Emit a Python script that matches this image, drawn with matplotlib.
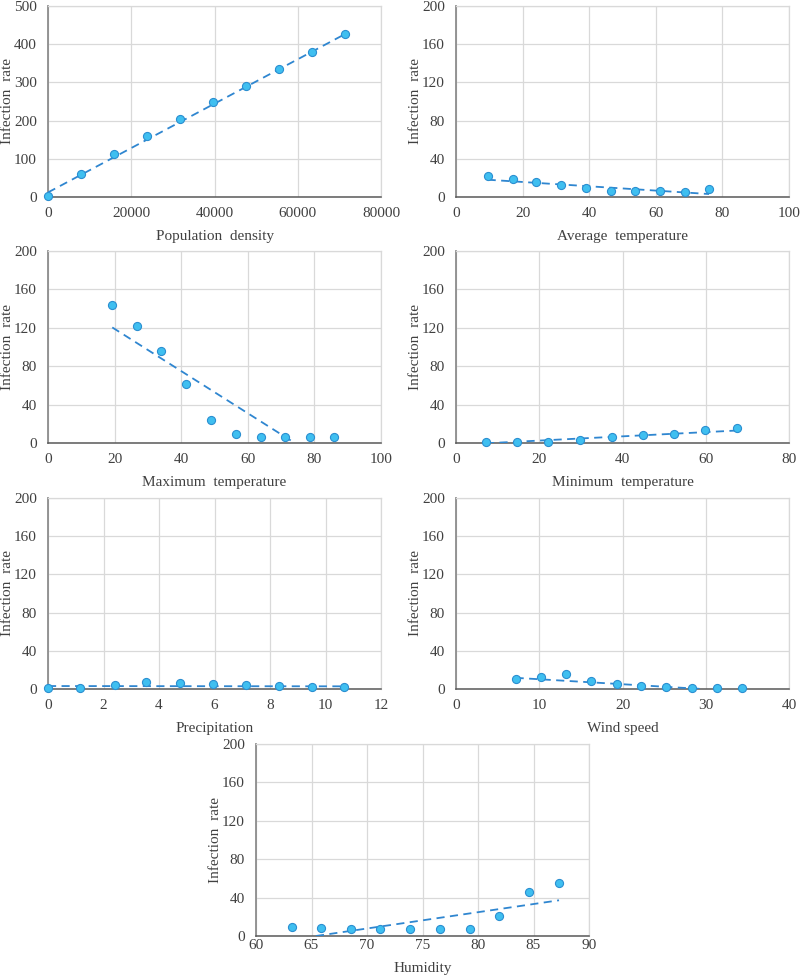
import matplotlib
matplotlib.use("Agg")
import matplotlib.pyplot as plt
import numpy as np

plt.rcParams['font.family'] = ['Liberation Serif', 'DejaVu Serif']

# ---------------- data ----------------
pop_x = [0, 7920, 15760, 23760, 31760, 39600, 47600, 55600, 63360, 71440]
pop_y = [2.6, 61, 112, 159, 203.5, 248, 290.5, 335, 380, 427]
pop_trend_x = [0, 71440]
pop_trend_y = [12, 427]

avg_x = [9.5, 17, 24, 31.5, 39, 46.4, 53.9, 61.4, 68.8, 76]
avg_y = [21.6, 18.8, 15.4, 12.6, 9.1, 6.3, 6.3, 6.3, 5.2, 8.4]
avg_trend_x = [9.5, 76]
avg_trend_y = [18.1, 3.1]

max_x = [19.1, 26.6, 34, 41.5, 48.9, 56.4, 63.9, 71.3, 78.7, 85.9]
max_y = [143.3, 122.1, 96.2, 61.6, 24.2, 9.0, 6.2, 6.2, 6.2, 6.2]
max_trend_x = [19.3, 74.1]
max_trend_y = [120.4, 0]

min_x = [7.2, 14.7, 22.2, 29.8, 37.4, 45, 52.3, 59.9, 67.5]
min_y = [0.7, 0.7, 0.7, 3.5, 6.3, 8.0, 9.7, 13.2, 16.0]
min_trend_x = [7.2, 67.5]
min_trend_y = [-0.3, 13.0]

pre_x = [0, 1.17, 2.40, 3.54, 4.74, 5.94, 7.13, 8.31, 9.50, 10.67]
pre_y = [0.7, 0.7, 4.5, 7.0, 5.9, 5.2, 4.5, 3.5, 2.4, 1.7]
pre_trend_x = [0, 10.67]
pre_trend_y = [3.1, 2.8]

wind_x = [7.16, 10.16, 13.24, 16.2, 19.28, 22.28, 25.24, 28.32, 31.32, 34.36]
wind_y = [10.7, 12.4, 15.2, 7.9, 5.2, 3.4, 1.7, 0.7, 0.7, 0.7]
wind_trend_x = [7.16, 29.6]
wind_trend_y = [11.7, 0]

hum_x = [63.2, 65.9, 68.6, 71.2, 73.9, 76.6, 79.3, 81.9, 84.6, 87.3]
hum_y = [9.7, 8.7, 7.6, 7.6, 6.9, 6.9, 7.6, 21.2, 46.2, 55.2]
hum_trend_x = [65.4, 87.3]
hum_trend_y = [0, 37.2]

xlabels = ["Population  density", "Average  temperature", "Maximum  temperature",
           "Minimum  temperature", "Precipitation", "Wind speed", "Humidity"]
ylabel = "Infection  rate"

panels = [
    (pop_x, pop_y, pop_trend_x, pop_trend_y, (0, 80000), np.arange(0, 80001, 20000), (0, 500), np.arange(0, 501, 100)),
    (avg_x, avg_y, avg_trend_x, avg_trend_y, (0, 100), np.arange(0, 101, 20), (0, 200), np.arange(0, 201, 40)),
    (max_x, max_y, max_trend_x, max_trend_y, (0, 100), np.arange(0, 101, 20), (0, 200), np.arange(0, 201, 40)),
    (min_x, min_y, min_trend_x, min_trend_y, (0, 80), np.arange(0, 81, 20), (0, 200), np.arange(0, 201, 40)),
    (pre_x, pre_y, pre_trend_x, pre_trend_y, (0, 12), np.arange(0, 13, 2), (0, 200), np.arange(0, 201, 40)),
    (wind_x, wind_y, wind_trend_x, wind_trend_y, (0, 40), np.arange(0, 41, 10), (0, 200), np.arange(0, 201, 40)),
    (hum_x, hum_y, hum_trend_x, hum_trend_y, (60, 90), np.arange(60, 91, 5), (0, 200), np.arange(0, 201, 40)),
]

# axes rectangles in pixel coordinates (left, top, right, bottom)
W, H = 800, 976
rects_px = [
    (48, 6, 381, 197), (456, 6, 789, 197),
    (48, 251, 381, 443), (456, 251, 789, 443),
    (48, 498, 381, 689), (456, 498, 789, 689),
    (256, 744, 589, 936),
]
# x tick pad (pt) and x label offset below axis (px) per panel
xpads = [7.5, 7.5, 7.5, 7.5, 7.5, 7.5, 2.0]
xlab_off = [33, 33, 33, 33, 33, 33, 26]

fig = plt.figure(figsize=(8.0, 9.76), dpi=100)

grid_c = '#d9d9d9'
for i, ((px, py, tx, ty, xl, xt, yl, yt), (l, t, r, b), xlab) in enumerate(zip(panels, rects_px, xlabels)):
    ax = fig.add_axes([l / W, 1 - b / H, (r - l) / W, (b - t) / H])
    ax.set_xlim(*xl)
    ax.set_ylim(*yl)
    ax.set_xticks(xt)
    ax.set_yticks(yt)
    ax.grid(True, color=grid_c, linewidth=0.9, zorder=0)
    ax.set_axisbelow(True)
    for s in ['top', 'right']:
        ax.spines[s].set_color(grid_c)
        ax.spines[s].set_linewidth(0.9)
    ax.spines['left'].set_color('#8c8c8c')
    ax.spines['left'].set_linewidth(1.3)
    ax.spines['bottom'].set_color('#595959')
    ax.spines['bottom'].set_linewidth(1.1)
    ax.tick_params(axis='y', length=0, pad=8, labelsize=11, colors='#404040')
    ax.tick_params(axis='x', length=0, pad=xpads[i], labelsize=11, colors='#404040')
    ax.plot(tx, ty, linestyle=(0, (4.5, 3)), color='#2f86d0', linewidth=1.3, zorder=3)
    ax.scatter(px, py, s=34, color='#3fbff0', edgecolors='#2b8fd1', linewidths=0.8, zorder=4,
               clip_on=False)
    ax.set_xlabel(xlab, fontsize=11, color='#404040')
    ax.xaxis.set_label_coords(0.5, -xlab_off[i] / (b - t))
    ax.set_ylabel(ylabel, fontsize=11, color='#404040')
    ax.yaxis.set_label_coords(-34 / (r - l), 0.5)

fig.savefig("out.png", dpi=100)
